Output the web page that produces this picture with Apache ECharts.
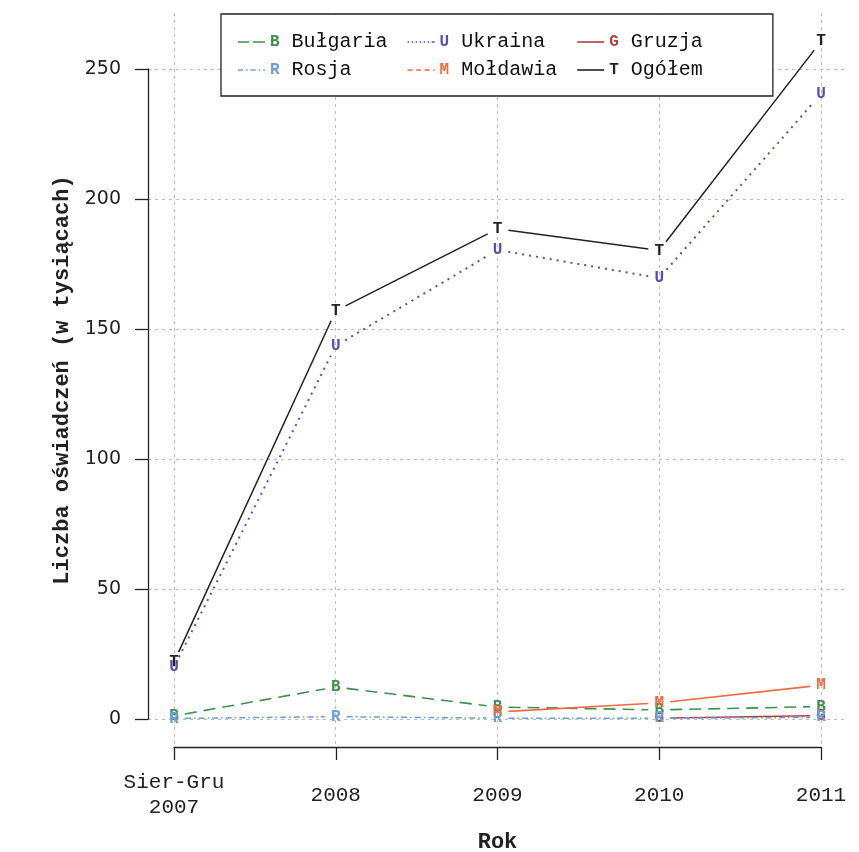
<!DOCTYPE html>
<html>
<head>
<meta charset="utf-8">
<script src="https://cdn.jsdelivr.net/npm/echarts@6/dist/echarts.min.js"></script>
<style>
  html, body { margin: 0; padding: 0; background: #fff; }
  #chart { width: 859px; height: 852px; }
</style>
</head>
<body>
<div id="chart"></div>
<script>
// Years on the horizontal axis and the value ticks on the vertical one
const categories = ['Sier-Gru\n2007', '2008', '2009', '2010', '2011'];
const yTicks = [0, 50, 100, 150, 200, 250];

// Declarations per country, in thousands (null = no data that year)
const bulgaria = [1.2, 12.3, 4.6, 3.5, 4.8];
const ukraina  = [20.0, 143.5, 180.4, 169.6, 240.4];
const gruzja   = [null, null, null, 0.3, 1.3];
const rosja    = [0.2, 0.9, 0.3, 0.3, 0.6];
const moldawia = [null, null, 2.7, 6.2, 13.0];
const ogolem   = [21.9, 157.0, 188.5, 180.2, 260.6];

const MONO = '"Liberation Mono", "Courier New", monospace';

const seriesDefs = [
  { name: 'Bułgaria', letter: 'B', key: 'b', color: '#3f8f50', values: bulgaria, dash: [12, 7], width: 1.6,
    icon: 'path://M0,0h11v1.6h-11zM15,0h12v1.6h-12z' },
  { name: 'Ukraina', letter: 'U', key: 'u', color: '#5a4fae', values: ukraina, dash: [2, 5], width: 2,
    icon: 'path://M0,0h1.6v1.6h-1.6zM4,0h1.6v1.6h-1.6zM8,0h1.6v1.6h-1.6zM12,0h1.6v1.6h-1.6zM16,0h1.6v1.6h-1.6zM20,0h1.6v1.6h-1.6zM24,0h1.6v1.6h-1.6zM25.4,0h1.6v1.6h-1.6z' },
  { name: 'Gruzja', letter: 'G', key: 'g', color: '#b0413e', values: gruzja, dash: null, width: 1.6,
    icon: 'path://M0,0h27v1.6h-27z' },
  { name: 'Rosja', letter: 'R', key: 'r', color: '#6b9fda', values: rosja, dash: [6, 3, 1.6, 3], width: 1.5,
    icon: 'path://M0,0h5v1.6h-5zM8,0h1.6v1.6h-1.6zM12.6,0h5v1.6h-5zM20.6,0h1.6v1.6h-1.6zM25.2,0h1.8v1.6h-1.8z' },
  { name: 'Mołdawia', letter: 'M', key: 'm', color: '#f26a3f', values: moldawia, dash: null, width: 1.6,
    icon: 'path://M0,0h5v1.6h-5zM8.5,0h5v1.6h-5zM17,0h5v1.6h-5zM25.5,0h1.5v1.6h-1.5z' },
  { name: 'Ogółem', letter: 'T', key: 't', color: '#222222', values: ogolem, dash: null, width: 1.5,
    icon: 'path://M0,0h27v1.6h-27z' }
];

const GAP = 11; // space left around each letter marker
const NAME_CHARS = 8; // legend names are padded to one column width

function makeSeries(def) {
  return {
    type: 'custom',
    name: def.name,
    coordinateSystem: 'cartesian2d',
    xAxisIndex: 1,
    yAxisIndex: 1,
    clip: false,
    itemStyle: { color: def.color },
    encode: { x: 0, y: 1 },
    data: def.values.map((v, i) => [i, v == null ? '-' : v]),
    renderItem: function (params, api) {
      const yv = api.value(1);
      if (yv === '-' || isNaN(yv)) return null;
      const p = api.coord([api.value(0), yv]);
      const children = [];
      const nextIdx = params.dataIndexInside + 1;
      if (nextIdx < params.dataInsideLength) {
        const ny = api.value(1, nextIdx);
        if (ny !== '-' && !isNaN(ny)) {
          const q = api.coord([api.value(0, nextIdx), ny]);
          const dx = q[0] - p[0], dy = q[1] - p[1];
          const len = Math.sqrt(dx * dx + dy * dy);
          if (len > 2 * GAP) {
            const ux = dx / len, uy = dy / len;
            children.push({
              type: 'line',
              shape: { x1: p[0] + ux * GAP, y1: p[1] + uy * GAP, x2: q[0] - ux * GAP, y2: q[1] - uy * GAP },
              style: { stroke: def.color, lineWidth: def.width, lineDash: def.dash || null, fill: null }
            });
          }
        }
      }
      children.push({
        type: 'text',
        x: p[0],
        y: p[1],
        style: {
          text: def.letter,
          fill: def.color,
          font: 'bold 16px ' + MONO,
          align: 'center',
          verticalAlign: 'middle'
        }
      });
      return { type: 'group', children: children };
    }
  };
}

const rich = {};
seriesDefs.forEach(d => {
  rich[d.key] = { color: d.color, fontFamily: MONO, fontSize: 16, fontWeight: 'bold' };
});
rich.n = { color: '#111', fontFamily: MONO, fontSize: 20 };

function legendItems(defs) {
  return defs.map(d => ({ name: d.name, icon: d.icon, itemStyle: { color: d.color, borderWidth: 0 } }));
}
function legendFormatter(name) {
  const d = seriesDefs.find(s => s.name === name);
  let padded = name;
  while (padded.length < NAME_CHARS) padded += '\u00a0';
  return '{' + d.key + '|' + d.letter + '}{n|\u00a0' + padded + '}';
}

const legendBase = {
  orient: 'horizontal',
  left: 221,
  itemWidth: 27,
  itemHeight: 14,
  itemGap: 20,
  selectedMode: false,
  symbolKeepAspect: true,
  padding: [18, 46, 44, 17],
  formatter: legendFormatter,
  textStyle: { fontFamily: MONO, fontSize: 20, rich: rich }
};

const gridStyle = { color: '#bdbdbd', type: [3, 4], width: 1 };
const axisStroke = { color: '#222', width: 1.3 };

const option = {
  backgroundColor: '#fff',
  animation: false,
  grid: [
    { left: 148, right: 12, top: 13, bottom: 105, outerBoundsMode: 'none' },
    { left: 174, right: 38, top: 69, bottom: 133, outerBoundsMode: 'none' }
  ],
  legend: [
    Object.assign({}, legendBase, {
      top: 14,
      data: legendItems(seriesDefs.slice(0, 3)),
      borderColor: '#222',
      borderWidth: 1.3,
      backgroundColor: '#fff'
    }),
    Object.assign({}, legendBase, {
      top: 42,
      data: legendItems(seriesDefs.slice(3))
    })
  ],
  xAxis: [
    {
      type: 'value', gridIndex: 0,
      min: -0.1607, max: 4.1607,
      axisLine: { show: false, onZero: false },
      axisTick: { show: false, customValues: categories.map((c, i) => i) },
      axisLabel: { show: false },
      splitLine: { show: true, lineStyle: gridStyle },
      name: 'Rok',
      nameLocation: 'middle',
      nameGap: 84,
      nameTextStyle: { fontFamily: MONO, fontSize: 22, fontWeight: 'bold', color: '#222' }
    },
    {
      type: 'value', gridIndex: 1,
      min: 0, max: categories.length - 1, interval: 1,
      offset: 28,
      axisLine: { show: true, onZero: false, lineStyle: axisStroke },
      axisTick: { show: true, inside: false, length: 13, lineStyle: axisStroke },
      axisLabel: {
        formatter: v => categories[v] || '',
        margin: 48,
        verticalAlign: 'middle',
        lineHeight: 25,
        fontFamily: MONO,
        fontSize: 21,
        color: '#222'
      },
      splitLine: { show: false }
    }
  ],
  yAxis: [
    {
      type: 'value', gridIndex: 0,
      min: -10.77, max: 271.54,
      axisLine: { show: false, onZero: false },
      axisTick: { show: false, customValues: yTicks },
      axisLabel: { show: false },
      splitLine: { show: true, lineStyle: gridStyle },
      name: 'Liczba oświadczeń (w tysiącach)',
      nameLocation: 'middle',
      nameRotate: 90,
      nameGap: 75,
      nameTextStyle: { fontFamily: MONO, fontSize: 22, fontWeight: 'bold', color: '#222' }
    },
    {
      type: 'value', gridIndex: 1,
      min: yTicks[0], max: yTicks[yTicks.length - 1], interval: 50,
      offset: 26,
      axisLine: { show: true, onZero: false, lineStyle: axisStroke },
      axisTick: { show: true, inside: false, length: 13, lineStyle: axisStroke },
      axisLabel: { margin: 27, fontFamily: '"DejaVu Sans", sans-serif', fontSize: 19, color: '#222' },
      splitLine: { show: false }
    }
  ],
  series: seriesDefs.map(makeSeries)
};

const chart = echarts.init(document.getElementById('chart'), null, { renderer: 'canvas' });
chart.setOption(option);
</script>
</body>
</html>
